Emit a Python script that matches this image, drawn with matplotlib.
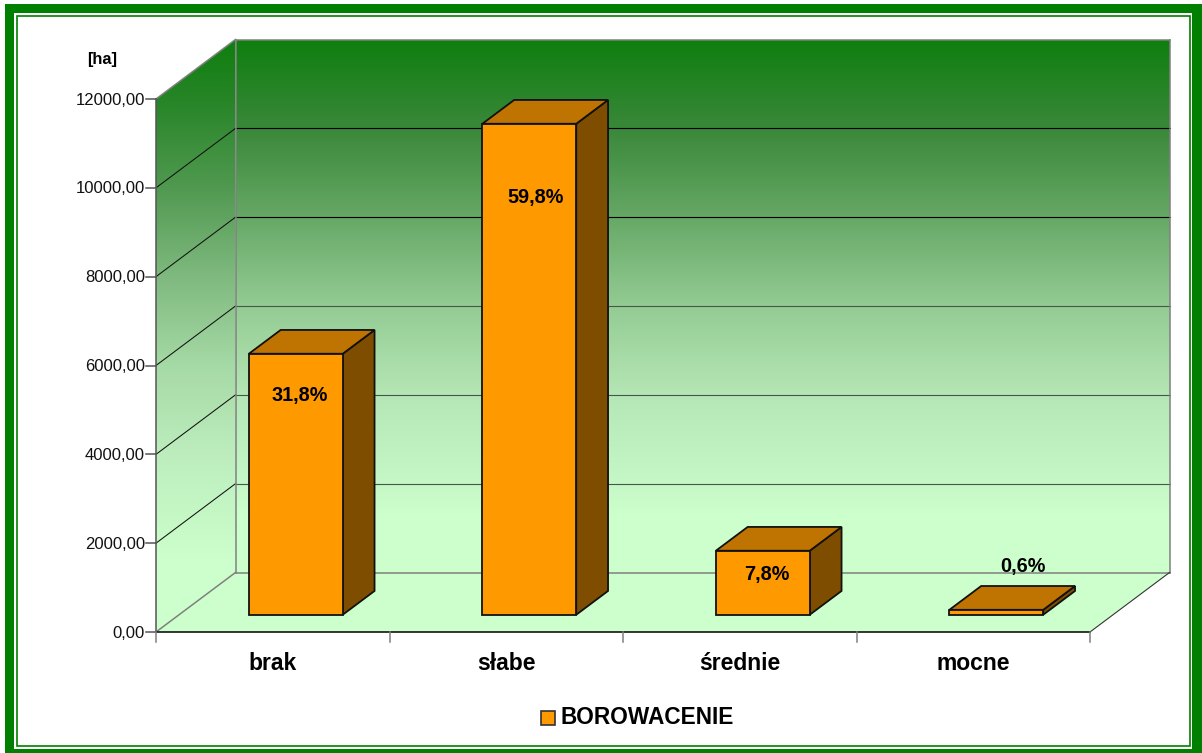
"""3D-look column chart drawn by hand in pixel space: BOROWACENIE by class."""
import numpy as np
import matplotlib
matplotlib.use("Agg")
import matplotlib.pyplot as plt
from matplotlib.patches import Polygon, Rectangle
from matplotlib.colors import LinearSegmentedColormap

plt.rcParams["font.family"] = ["Liberation Sans", "DejaVu Sans"]

categories = ["brak", "słabe", "średnie", "mocne"]
values = [5876, 11054, 1441, 111]
percents = ["31,8%", "59,8%", "7,8%", "0,6%"]
yticks = [0, 2000, 4000, 6000, 8000, 10000, 12000]
ytick_labels = ["0,00", "2000,00", "4000,00", "6000,00", "8000,00", "10000,00", "12000,00"]
series_name = "BOROWACENIE"
unit = "[ha]"

W, H = 1202, 753
X0, Y0 = 156, 632       # front bottom corner of the plot box
SLOT = 233.5
PX_PER_UNIT = 533 / 12000
DX, DY = 79.5, -59.5    # full depth offset of the box

ORANGE, ORANGE_TOP, ORANGE_SIDE = "#ff9900", "#bf7300", "#7f4d00"
GREEN = "#007f00"
LIGHT = "#ccffcc"

fig = plt.figure(figsize=(W / 100, H / 100), dpi=100)
ax = fig.add_axes([0, 0, 1, 1])
ax.set_xlim(0, W); ax.set_ylim(H, 0); ax.axis("off")


def pt(slot, val, depth=0.0):
    return (X0 + slot * SLOT + depth * DX, Y0 - val * PX_PER_UNIT + depth * DY)


def poly(points, **kw):
    p = Polygon(points, closed=True, **kw)
    ax.add_patch(p)
    return p


def wall_cmap(name, top, bottom, stops):
    return LinearSegmentedColormap.from_list(name, [((y - top) / (bottom - top), c) for y, c in stops])


# frame
ax.add_patch(Rectangle((5, 4), W - 5, H - 4, fc=GREEN, ec="none", zorder=0))
ax.add_patch(Rectangle((14, 13), 1178, 736, fc="white", ec="none", zorder=0))
ax.add_patch(Rectangle((16.7, 15.7), 1173.6, 730.6, fc="none", ec=GREEN, lw=1.2, zorder=0))

# walls with vertical gradient
grad = np.linspace(0, 1, 256).reshape(-1, 1)
back_cmap = wall_cmap("back", 40, 515, [(40, "#0f7f0f"), (128, "#3a883a"), (217, "#66a866"),
                                        (305, "#93cb93"), (395, "#b5e6b5"), (484, "#c6f7c6"), (515, LIGHT)])
left_cmap = wall_cmap("left", 40, 560, [(40, "#0f7f0f"), (100, "#278527"), (188, "#519951"), (276, "#7fb97f"),
                                        (365, "#a5d9a5"), (454, "#bdedbd"), (542, "#c9fcc9"), (560, LIGHT)])
back = [pt(0, 0, 1), pt(4, 0, 1), pt(4, 12000, 1), pt(0, 12000, 1)]
im = ax.imshow(grad, cmap=back_cmap, extent=(235, 1171, 515, 40), aspect="auto", zorder=1)
im.set_clip_path(poly(back, fc=LIGHT, ec="none", zorder=0.5))
left = [pt(0, 0), pt(0, 0, 1), pt(0, 12000, 1), pt(0, 12000)]
im2 = ax.imshow(grad, cmap=left_cmap, extent=(156, 236, 560, 40), aspect="auto", zorder=1)
im2.set_clip_path(poly(left, fc=LIGHT, ec="none", zorder=0.5))
ax.set_xlim(0, W); ax.set_ylim(H, 0)

# floor
poly([pt(0, 0), pt(4, 0), pt(4, 0, 1), pt(0, 0, 1)], fc=LIGHT, ec="none", zorder=1.2)

# gridlines
for t in yticks[1:-1]:
    a, b, c = pt(0, t), pt(0, t, 1), pt(4, t, 1)
    ax.plot([a[0], b[0]], [a[1], b[1]], color="#111111", lw=0.75, zorder=2)
    ax.plot([b[0], c[0]], [b[1], c[1]], color="black" if t > 6000 else "#45594a", lw=0.8, zorder=2)

# box edges
GREY = "#808080"
for a, b in [(pt(0, 12000), pt(0, 12000, 1)), (pt(0, 12000, 1), pt(4, 12000, 1)),
             (pt(0, 0, 1), pt(0, 12000, 1)), (pt(4, 12000, 1), pt(4, 0, 1)),
             (pt(0, 0), pt(0, 0, 1)), (pt(0, 0, 1), pt(4, 0, 1))]:
    ax.plot([a[0], b[0]], [a[1], b[1]], color=GREY, lw=1.1, zorder=2.1)
a, b = pt(4, 0), pt(4, 0, 1)
ax.plot([a[0], b[0]], [a[1], b[1]], color="#333333", lw=0.8, zorder=2.1)
a, b = pt(0, 0), pt(0, 12000)
ax.plot([a[0], b[0]], [a[1], b[1]], color="#555555", lw=1.1, zorder=2.2)
a, b = pt(0, 0), pt(4, 0)
ax.plot([a[0], b[0]], [a[1], b[1]], color="black", lw=1.1, zorder=2.2)

# ticks and labels
for t, lab in zip(yticks, ytick_labels):
    x, y = pt(0, t)
    ax.plot([x - 10, x], [y, y], color="#555555", lw=1.1, zorder=2.2)
    ax.text(x - 11, y + 1, lab, ha="right", va="center", fontsize=12, color="#111111", zorder=5)
for i in range(5):
    x, y = pt(i, 0)
    ax.plot([x, x], [y, y + 10], color=GREY, lw=1.1, zorder=2.2)
for i, c in enumerate(categories):
    x, y = pt(i + 0.5, 0)
    ax.text(x, 663, c, ha="center", va="center", fontsize=16.5, weight="bold", zorder=5)

# bars
D0, D1 = 0.29, 0.69
HALF = 0.201
EDGE = dict(ec="#111111", lw=1.3, joinstyle="miter", zorder=3)
for i, v in enumerate(values):
    l, r = i + 0.5 - HALF, i + 0.5 + HALF
    poly([pt(r, 0, D0), pt(r, 0, D1), pt(r, v, D1), pt(r, v, D0)], fc=ORANGE_SIDE, **EDGE)
    poly([pt(l, v, D0), pt(r, v, D0), pt(r, v, D1), pt(l, v, D1)], fc=ORANGE_TOP, **EDGE)
    poly([pt(l, 0, D0), pt(r, 0, D0), pt(r, v, D0), pt(l, v, D0)], fc=ORANGE, **EDGE)

# value labels
for i, (v, s) in enumerate(zip(values, percents)):
    x, y = pt(i + 0.5, v, D0)
    tx = x + 4 if i < 3 else x + 27
    ty = y + 42 if i < 2 else (y + 23.5 if i == 2 else y - 43.5)
    if i == 1:
        tx = x + 6; ty = y + 74
    ax.text(tx, ty, s, ha="center", va="center", fontsize=14.3, weight="bold", zorder=6)

ax.text(102.5, 59, unit, ha="center", va="center", fontsize=11.8, weight="bold", zorder=5)

# legend
ax.add_patch(Rectangle((541, 710.5), 14, 14, fc=ORANGE, ec="#333333", lw=1.2, zorder=5))
ax.text(561, 718, series_name, ha="left", va="center", fontsize=16.3, weight="bold", zorder=5)

fig.savefig("out.png", dpi=100)
